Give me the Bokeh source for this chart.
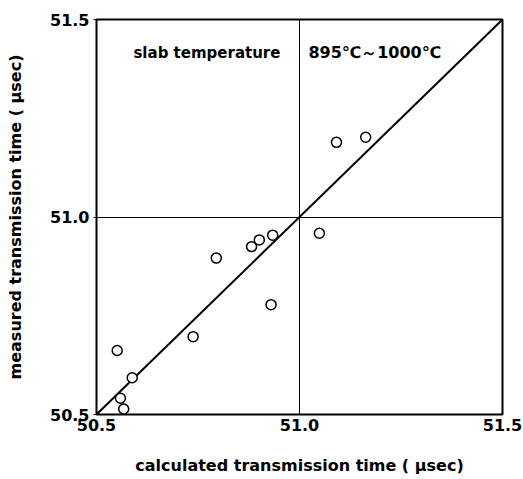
from bokeh.plotting import figure
from bokeh.models import Range1d, FixedTicker, PrintfTickFormatter, Label
from bokeh.embed import file_html
from bokeh.resources import INLINE

# data
calc_time = [50.551, 50.588, 50.559, 50.567, 50.738, 50.795, 50.882,
             50.901, 50.934, 50.930, 51.049, 51.091, 51.163]
meas_time = [50.662, 50.593, 50.541, 50.514, 50.697, 50.896, 50.925,
             50.942, 50.954, 50.778, 50.959, 51.189, 51.202]
ideal_x = [50.5, 51.5]
ideal_y = [50.5, 51.5]
tick_values = [50.5, 51.0, 51.5]
grid_values = [51.0]
note_left = "slab  temperature"
note_right = "895\u2103\uff5e1000\u2103"

FONT = "DejaVu Sans"

p = figure(width=523, height=479, output_backend="svg", toolbar_location=None,
           x_range=Range1d(50.5, 51.5), y_range=Range1d(50.5, 51.5),
           min_border_left=96, min_border_right=21, min_border_top=19,
           min_border_bottom=65)
p.background_fill_color = "white"
p.border_fill_color = "white"
p.outline_line_color = "black"
p.outline_line_width = 2

p.line(ideal_x, ideal_y, line_color="black", line_width=2)
p.scatter(calc_time, meas_time, marker="circle", size=10, fill_color="white",
          line_color="black", line_width=1.5)

for g in (p.xgrid, p.ygrid):
    g.ticker = FixedTicker(ticks=grid_values)
    g.grid_line_color = "black"
    g.grid_line_width = 1
    g.grid_line_alpha = 1.0

for ax in (p.xaxis, p.yaxis):
    ax.ticker = FixedTicker(ticks=tick_values)
    ax.formatter = PrintfTickFormatter(format="%.1f")
    ax.axis_line_color = None
    ax.minor_tick_line_color = None
    ax.major_label_text_font = FONT
    ax.major_label_text_font_style = "bold"
    ax.major_label_text_font_size = "16px"
    ax.major_label_text_color = "black"
    ax.axis_label_text_font = FONT
    ax.axis_label_text_font_style = "bold"
    ax.axis_label_text_font_size = "16px"
    ax.axis_label_text_color = "black"

p.xaxis.major_tick_line_color = None
p.xaxis.major_tick_in = 0
p.xaxis.major_tick_out = 0
p.xaxis.major_label_standoff = 4
p.xaxis.axis_label = "calculated transmission time ( \u03bcsec)"
p.xaxis.axis_label_standoff = 22

p.yaxis.major_tick_line_color = "black"
p.yaxis.major_tick_in = 0
p.yaxis.major_tick_out = 3
p.yaxis.major_label_standoff = 4
p.yaxis.axis_label = "measured transmission time ( \u03bcsec)"
p.yaxis.axis_label_standoff = 22

p.add_layout(Label(x=50.591, y=51.416, text=note_left, text_font=FONT,
                   text_font_style="bold", text_font_size="15px",
                   text_baseline="alphabetic", text_color="black"))
p.add_layout(Label(x=51.022, y=51.416, text=note_right, text_font=FONT,
                   text_font_style="bold", text_font_size="16px",
                   text_baseline="alphabetic", text_color="black"))

open("out.html", "w").write(file_html(p, INLINE))
